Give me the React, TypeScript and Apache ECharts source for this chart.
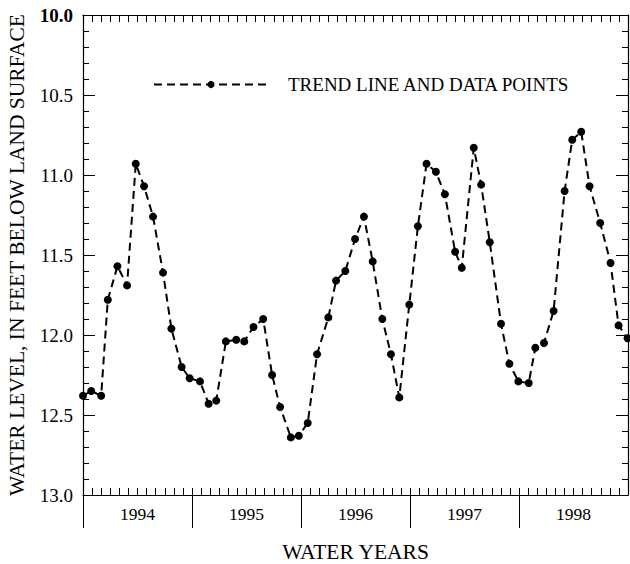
import React, { useEffect, useRef } from "react";
import * as echarts from "echarts";

// Months elapsed since the start of water year 1994 (Oct 1, 1993)
const monthOffset: number[] = [
  0, 0.9, 2.0, 2.73, 3.79, 4.85, 5.81, 6.72, 7.71, 8.81, 9.73, 10.86, 11.74,
  12.88, 13.83, 14.67, 15.73, 16.87, 17.75, 18.77, 19.84, 20.82, 21.7, 22.88,
  23.76, 24.74, 25.77, 27.01, 27.86, 28.88, 29.95, 30.93, 31.89, 32.95, 33.9,
  34.82, 35.92, 36.87, 37.82, 38.85, 39.84, 40.97, 41.7, 43.02, 43.83, 44.78,
  46.02, 46.94, 47.93, 49.07, 49.8, 50.75, 51.81, 53.02, 53.86, 54.85, 55.77,
  56.94, 58.08, 58.96, 59.95,
];

// Water level, in feet below land surface
const waterLevel: number[] = [
  12.38, 12.35, 12.38, 11.78, 11.57, 11.69, 10.93, 11.07, 11.26, 11.61, 11.96,
  12.2, 12.27, 12.29, 12.43, 12.41, 12.04, 12.03, 12.04, 11.95, 11.9, 12.25,
  12.45, 12.64, 12.63, 12.55, 12.12, 11.89, 11.66, 11.6, 11.4, 11.26, 11.54,
  11.9, 12.12, 12.39, 11.81, 11.32, 10.93, 10.98, 11.12, 11.48, 11.58, 10.83,
  11.06, 11.42, 11.93, 12.18, 12.29, 12.3, 12.08, 12.05, 11.85, 11.1, 10.78,
  10.73, 11.07, 11.3, 11.55, 11.94, 12.02,
];

const waterYears: string[] = ["1994", "1995", "1996", "1997", "1998"];
const yearLabelPositions: number[] = [6, 18, 30, 42, 54];
const yearDividers: number[] = [0, 12, 24, 36, 48];

const FONT = '"Liberation Serif", "Times New Roman", serif';

export default function App() {
  const ref = useRef<HTMLDivElement>(null);

  useEffect(() => {
    document.body.style.margin = "0";
    if (!ref.current) return;
    const chart = echarts.init(ref.current, null, { renderer: "svg" });
    const axisColor = "#000";
    chart.setOption({
      animation: false,
      backgroundColor: "#fff",
      grid: {
        left: 83,
        right: 2,
        top: 15,
        bottom: 69,
        containLabel: false,
        outerBoundsMode: "none",
      },
      legend: {
        show: true,
        left: 153,
        top: 75,
        padding: 0,
        itemWidth: 114,
        itemHeight: 9,
        data: ["TREND LINE AND DATA POINTS"],
        textStyle: {
          fontFamily: FONT,
          fontSize: 19,
          color: "#000",
          padding: [0, 0, 0, 15],
        },
      },
      xAxis: [
        {
          type: "value",
          position: "bottom",
          min: 0,
          max: 60,
          interval: 1,
          axisLine: { show: true, onZero: false, lineStyle: { color: axisColor, width: 1.2 } },
          axisTick: { show: true, inside: true, length: 7, lineStyle: { color: axisColor } },
          axisLabel: {
            show: true,
            customValues: yearLabelPositions,
            formatter: (v: number) => {
              const i = yearLabelPositions.indexOf(Math.round(v));
              return i >= 0 ? waterYears[i] : "";
            },
            color: "#000",
            fontFamily: FONT,
            fontSize: 17.5,
            margin: 10,
          },
          splitLine: { show: false },
          name: "WATER YEARS",
          nameLocation: "middle",
          nameGap: 46,
          nameTextStyle: { fontFamily: FONT, fontSize: 21.5, color: "#000" },
        },
        {
          type: "value",
          position: "bottom",
          min: 0,
          max: 60,
          interval: 12,
          axisLine: { show: false, onZero: false },
          axisTick: {
            show: true,
            inside: false,
            length: 33,
            customValues: yearDividers,
            lineStyle: { color: axisColor },
          },
          axisLabel: { show: false },
          splitLine: { show: false },
        },
        {
          type: "value",
          position: "top",
          min: 0,
          max: 60,
          interval: 1,
          axisLine: { show: true, onZero: false, lineStyle: { color: axisColor, width: 1.2 } },
          axisTick: { show: true, inside: true, length: 7, lineStyle: { color: axisColor } },
          axisLabel: { show: false },
          splitLine: { show: false },
        },
      ],
      yAxis: [
        {
          type: "value",
          position: "left",
          inverse: true,
          min: 10,
          max: 13,
          interval: 0.5,
          axisLine: { show: true, onZero: false, lineStyle: { color: axisColor, width: 1.2 } },
          axisTick: { show: true, inside: true, length: 12, lineStyle: { color: axisColor } },
          minorTick: { show: true, splitNumber: 5, length: 6, lineStyle: { color: axisColor } },
          axisLabel: {
            formatter: (v: number) =>
              v === 10 ? "{b|" + v.toFixed(1) + "}" : v.toFixed(1),
            color: "#000",
            fontFamily: FONT,
            fontSize: 19,
            margin: 10,
            rich: {
              b: { fontFamily: FONT, fontSize: 19, fontWeight: "bold", color: "#000" },
            },
          },
          splitLine: { show: false },
          minorSplitLine: { show: false },
          name: "WATER LEVEL, IN FEET BELOW LAND SURFACE",
          nameLocation: "middle",
          nameGap: 55,
          nameTextStyle: { fontFamily: FONT, fontSize: 21.5, color: "#000" },
        },
        {
          type: "value",
          position: "right",
          inverse: true,
          min: 10,
          max: 13,
          interval: 0.5,
          axisLine: { show: true, onZero: false, lineStyle: { color: axisColor, width: 1.2 } },
          axisTick: { show: true, inside: true, length: 12, lineStyle: { color: axisColor } },
          minorTick: { show: true, splitNumber: 5, length: 6, lineStyle: { color: axisColor } },
          axisLabel: { show: false },
          splitLine: { show: false },
          minorSplitLine: { show: false },
        },
      ],
      series: [
        {
          name: "TREND LINE AND DATA POINTS",
          type: "line",
          xAxisIndex: 0,
          yAxisIndex: 0,
          data: monthOffset.map((m, i) => [m, waterLevel[i]]),
          symbol: "circle",
          symbolSize: 8,
          showSymbol: true,
          clip: false,
          itemStyle: { color: "#000" },
          lineStyle: { color: "#000", width: 2, type: [8, 5] },
        },
      ],
    });
    return () => chart.dispose();
  }, []);

  return <div ref={ref} style={{ width: 630, height: 564 }} />;
}
